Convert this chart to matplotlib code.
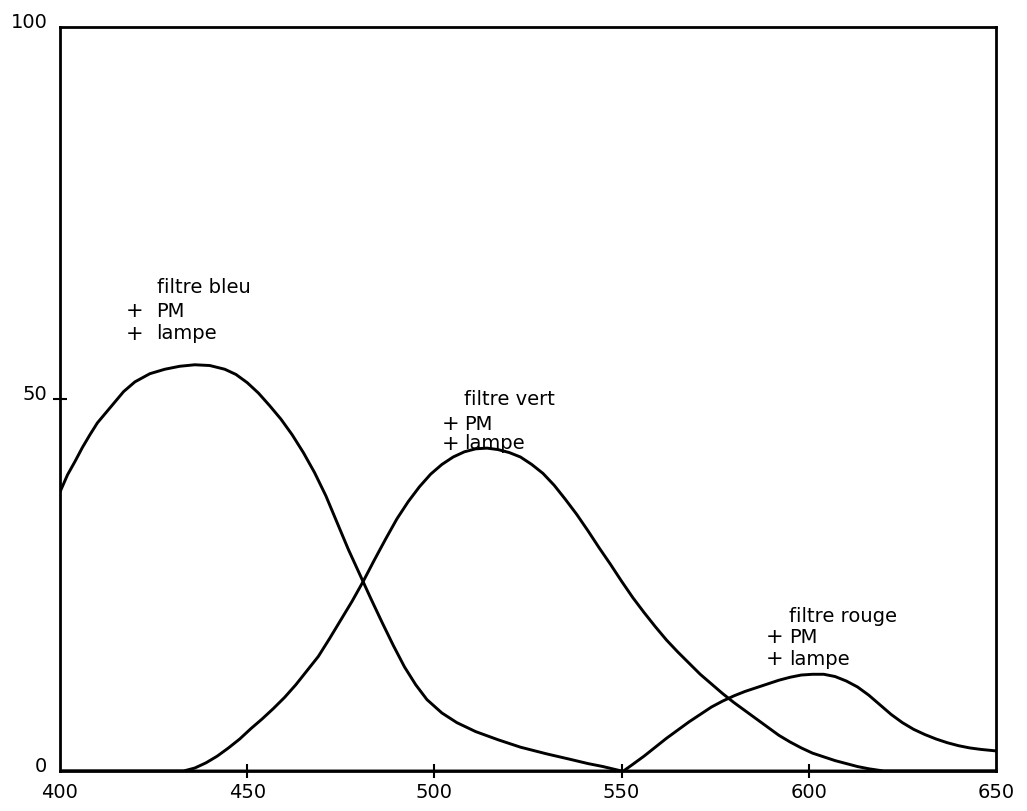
import matplotlib
matplotlib.use("Agg")
import matplotlib.pyplot as plt
import matplotlib.transforms as mtransforms

# transmission curves (wavelength in nm, value in %)
wl_bleu = [400, 402, 404, 406, 408, 410, 413, 417, 420, 424, 428, 432, 436,
           440, 444, 447, 450, 453, 456, 459, 462, 465, 468, 471, 474, 477,
           480, 483, 486, 489, 492, 495, 498, 502, 506, 511, 517, 523, 530,
           536, 541, 545, 550, 650]
bleu = [37.5, 39.8, 41.6, 43.5, 45.2, 46.8, 48.6, 51.0, 52.3, 53.4, 54.0, 54.4,
        54.6, 54.5, 54.0, 53.3, 52.2, 50.8, 49.1, 47.3, 45.2, 42.8, 40.1, 37.0,
        33.4, 29.8, 26.5, 23.2, 20.0, 16.9, 14.0, 11.6, 9.6, 7.8, 6.5, 5.3,
        4.2, 3.2, 2.3, 1.6, 1.0, 0.6, 0.0, 0.0]

wl_vert = [400, 433, 436, 439, 442, 445, 448, 451, 454, 457, 460, 463, 466,
           469, 472, 475, 478, 481, 484, 487, 490, 493, 496, 499, 502, 505,
           508, 511, 514, 517, 520, 523, 526, 529, 532, 535, 538, 541, 544,
           547, 550, 553, 556, 559, 562, 565, 568, 571, 574, 577, 580, 583,
           586, 589, 592, 595, 598, 601, 604, 607, 610, 613, 616, 620, 650]
vert = [0, 0, 0.4, 1.1, 2.0, 3.1, 4.3, 5.7, 7.0, 8.4, 9.9, 11.6, 13.5,
        15.4, 17.8, 20.3, 22.8, 25.5, 28.4, 31.2, 33.9, 36.2, 38.2, 39.9, 41.2,
        42.2, 42.9, 43.3, 43.4, 43.2, 42.8, 42.2, 41.2, 40.0, 38.4, 36.5, 34.5,
        32.3, 30.0, 27.8, 25.5, 23.3, 21.3, 19.4, 17.6, 16.0, 14.5, 13.0, 11.7,
        10.4, 9.2, 8.1, 7.0, 5.9, 4.8, 3.9, 3.1, 2.4, 1.9, 1.4, 1.0, 0.6, 0.3,
        0, 0]

wl_rouge = [400, 550.5, 553, 556, 559, 562, 565, 568, 571, 574, 577, 580, 583,
            586, 589, 592, 595, 598, 601, 604, 607, 610, 613, 616, 619, 622,
            625, 628, 631, 634, 637, 640, 643, 646, 650]
rouge = [0, 0, 0.9, 2.0, 3.2, 4.4, 5.5, 6.6, 7.6, 8.6, 9.4, 10.1, 10.7,
         11.2, 11.7, 12.2, 12.6, 12.9, 13.0, 13.0, 12.7, 12.1, 11.3, 10.2, 8.9,
         7.6, 6.5, 5.6, 4.9, 4.3, 3.8, 3.4, 3.1, 2.9, 2.7]

x_ticks = [400, 450, 500, 550, 600, 650]
y_ticks = [0, 50, 100]

# (title, x of "+", x of text, y title, y PM, y lampe)
labels = [
    ("filtre bleu", 419.9, 425.8, 65.0, 61.8, 58.8),
    ("filtre vert", 504.2, 507.9, 49.9, 46.6, 44.0),
    ("filtre rouge", 590.8, 594.8, 20.8, 18.0, 15.0),
]

fig = plt.figure(figsize=(10.27, 8.11), dpi=100)
ax = fig.add_axes([60 / 1027, 1 - 771 / 811, 936 / 1027, 744 / 811])

for wl, val in [(wl_bleu, bleu), (wl_vert, vert), (wl_rouge, rouge)]:
    ax.plot(wl, val, color="black", lw=2.1, solid_capstyle="round",
            solid_joinstyle="round")

ax.set_xlim(400, 650)
ax.set_ylim(0, 100)
for sp in ax.spines.values():
    sp.set_linewidth(2.0)

ax.set_xticks(x_ticks)
ax.set_yticks(y_ticks)
ax.set_xticklabels([str(v) for v in x_ticks])
ax.set_yticklabels([str(v) for v in y_ticks])
ax.tick_params(direction="inout", length=10, width=1.5, labelsize=14,
               top=False, right=False)
ax.tick_params(axis="x", pad=4)
ax.tick_params(axis="y", pad=4)

# only the inner ticks carry a mark on the scan
xt = ax.xaxis.get_major_ticks()
xt[0].tick1line.set_visible(False)
xt[-1].tick1line.set_visible(False)
yt = ax.yaxis.get_major_ticks()
yt[0].tick1line.set_visible(False)
yt[-1].tick1line.set_visible(False)

shift = mtransforms.ScaledTranslation(0, 5 / 72, fig.dpi_scale_trans)
for lab in ax.get_yticklabels():
    lab.set_transform(lab.get_transform() + shift)

for title, xp, xt_, yt_, ypm, ylamp in labels:
    ax.text(xt_, yt_, title, fontsize=14, va="center", ha="left")
    ax.text(xp, ypm, "+", fontsize=15, va="center", ha="center")
    ax.text(xt_, ypm, "PM", fontsize=14, va="center", ha="left")
    ax.text(xp, ylamp, "+", fontsize=15, va="center", ha="center")
    ax.text(xt_, ylamp, "lampe", fontsize=14, va="center", ha="left")

fig.savefig("out.png", dpi=100)
